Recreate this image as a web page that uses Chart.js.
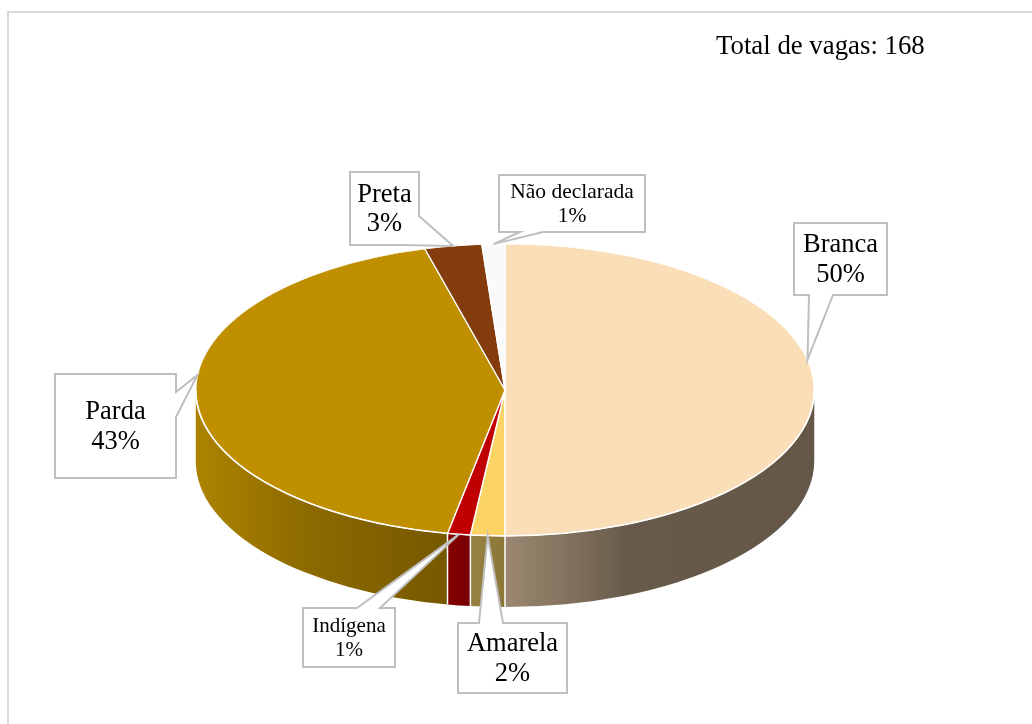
<!DOCTYPE html>
<html>
<head>
<meta charset="utf-8">
<script src="https://cdn.jsdelivr.net/npm/chart.js@4.4.1/dist/chart.umd.min.js"></script>
<style>
  html, body { margin: 0; padding: 0; background: #fff; }
  #wrap { position: relative; width: 1032px; height: 724px; }
</style>
</head>
<body>
<div id="wrap"><canvas id="chart" width="1032" height="724"></canvas></div>
<script>
// data, clockwise from 12 o'clock
const categories = ["Branca", "Amarela", "Indígena", "Parda", "Preta", "Não declarada"]
const vagas = [84, 3, 2, 72, 5, 2]
const totalText = "Total de vagas: "

// styles
const topColors = ["#fadeb8", "#fcd466", "#c00000", "#bf8f00", "#843c0c", "#fafafa"]
const sideColors = [
  [["#9c8872", 0], ["#85745f", 0.18], ["#675a4a", 0.4], ["#645748", 1]],
  [["#978243", 0], ["#8b7739", 1]],
  [["#850000", 0], ["#760000", 1]],
  [["#ad8300", 0], ["#8c6a00", 0.45], ["#765800", 1]],
  [["#5c2a08", 0], ["#5c2a08", 1]],
  [["#d0d0d0", 0], ["#d0d0d0", 1]]
]

// layout of the squashed pie and the callout boxes
const PIE = { cy: 390, ry: 146, depth: 71 }
const FONT = '"Liberation Serif", "Times New Roman", serif'
const callouts = [
  { box: [794, 223, 887, 295], base: [[809, 295], [833, 295]], size: 26.5, nudge: -12 },
  { box: [458, 623, 567, 693], base: [[479, 623], [503, 623]], size: 26.5, nudge: 0 },
  { box: [303, 608, 395, 667], base: [[357, 608], [380, 608]], size: 21, nudge: 0 },
  { box: [55, 374, 176, 478], base: [[176, 392], [176, 417]], size: 26.5, nudge: 8 },
  { box: [350, 172, 419, 245], base: [[419, 216], [403, 245]], size: 26.5, nudge: 0 },
  { box: [499, 175, 645, 232], base: [[520, 232], [543, 232]], size: 21.5, nudge: 0 }
]

const total = vagas.reduce((a, b) => a + b, 0)

// side wall + vertical squash of the pie top
const pie3d = {
  id: "pie3d",
  beforeDatasetsDraw(chart) {
    const ctx = chart.ctx
    const arcs = chart.getDatasetMeta(0).data
    const cx = arcs[0].x, rx = arcs[0].outerRadius
    const cy = PIE.cy, ry = PIE.ry, d = PIE.depth

    arcs.forEach((arc, i) => {
      const s = Math.max(arc.startAngle, 0)
      const e = Math.min(arc.endAngle, Math.PI)
      if (e <= s) return
      const xl = cx + rx * Math.cos(e), xr = cx + rx * Math.cos(s)
      const g = ctx.createLinearGradient(xl, 0, xr, 0)
      sideColors[i].forEach(([c, t]) => g.addColorStop(t, c))
      ctx.beginPath()
      ctx.ellipse(cx, cy, rx, ry, 0, s, e)
      ctx.ellipse(cx, cy + d, rx, ry, 0, e, s, true)
      ctx.closePath()
      ctx.fillStyle = g
      ctx.fill()
    })

    // white seams on the wall
    ctx.strokeStyle = "#ffffff"
    ctx.lineWidth = 1.5
    arcs.forEach(arc => {
      const a = arc.endAngle
      if (a > 0 && a < Math.PI) {
        const x = cx + rx * Math.cos(a), y = cy + ry * Math.sin(a)
        ctx.beginPath()
        ctx.moveTo(x, y)
        ctx.lineTo(x, y + d)
        ctx.stroke()
      }
    })

    ctx.save()
    ctx.translate(0, cy)
    ctx.scale(1, ry / rx)
    ctx.translate(0, -arcs[0].y)
  },
  afterDatasetsDraw(chart) {
    const ctx = chart.ctx
    ctx.restore()
    const arcs = chart.getDatasetMeta(0).data
    ctx.strokeStyle = "#ffffff"
    ctx.lineWidth = 1.5
    ctx.beginPath()
    ctx.ellipse(arcs[0].x, PIE.cy, arcs[0].outerRadius, PIE.ry, 0, 0, Math.PI)
    ctx.stroke()
  }
}

function calloutPath(ctx, box, base, tip) {
  const [x1, y1, x2, y2] = box
  const W = x2 - x1, H = y2 - y1
  const par = ([x, y]) => {
    if (y === y1) return x - x1
    if (x === x2) return W + (y - y1)
    if (y === y2) return W + H + (x2 - x)
    return 2 * W + H + (y2 - y)
  }
  const corners = [[x1, y1, 0], [x2, y1, W], [x2, y2, W + H], [x1, y2, 2 * W + H]]
  let [p, q] = base
  if (par(p) > par(q)) [p, q] = [q, p]
  const tp = par(p), tq = par(q)
  ctx.beginPath()
  ctx.moveTo(p[0], p[1])
  ctx.lineTo(tip[0], tip[1])
  ctx.lineTo(q[0], q[1])
  corners.filter(c => c[2] > tq).forEach(c => ctx.lineTo(c[0], c[1]))
  corners.filter(c => c[2] < tp).forEach(c => ctx.lineTo(c[0], c[1]))
  ctx.closePath()
}

const labelsPlugin = {
  id: "calloutLabels",
  afterDraw(chart) {
    const ctx = chart.ctx
    const arcs = chart.getDatasetMeta(0).data
    const cx = arcs[0].x, rx = arcs[0].outerRadius

    // frame
    ctx.fillStyle = "#d9d9d9"
    ctx.fillRect(7, 11, 2, 720)
    ctx.fillRect(7, 11, 1030, 2)

    ctx.fillStyle = "#000"
    ctx.font = "26.8px " + FONT
    ctx.textAlign = "left"
    ctx.textBaseline = "alphabetic"
    ctx.fillText(totalText + total, 716, 54)

    arcs.forEach((arc, i) => {
      const c = callouts[i]
      const mid = (arc.startAngle + arc.endAngle) / 2 + c.nudge * Math.PI / 180
      const tip = [cx + rx * Math.cos(mid), PIE.cy + PIE.ry * Math.sin(mid)]
      calloutPath(ctx, c.box, c.base, tip)
      ctx.fillStyle = "#ffffff"
      ctx.fill()
      ctx.strokeStyle = "#bfbfbf"
      ctx.lineWidth = 2
      ctx.lineJoin = "miter"
      ctx.stroke()

      const [x1, y1, x2, y2] = c.box
      const pct = Math.round(vagas[i] / total * 100) + "%"
      const gap = c.size * 1.12
      const my = (y1 + y2) / 2 + 1
      ctx.fillStyle = "#000"
      ctx.font = c.size + "px " + FONT
      ctx.textAlign = "center"
      ctx.textBaseline = "middle"
      ctx.fillText(categories[i], (x1 + x2) / 2, my - gap / 2)
      ctx.fillText(pct, (x1 + x2) / 2, my + gap / 2)
    })
  }
}

new Chart(document.getElementById("chart"), {
  type: "pie",
  data: {
    labels: categories,
    datasets: [{
      data: vagas,
      backgroundColor: topColors,
      borderColor: "#ffffff",
      borderWidth: 1.5,
      clip: false
    }]
  },
  options: {
    responsive: false,
    animation: false,
    events: [],
    layout: { padding: { left: 195, right: 217, top: 52, bottom: 52 } },
    plugins: {
      legend: { display: false },
      tooltip: { enabled: false }
    }
  },
  plugins: [pie3d, labelsPlugin]
})
</script>
</body>
</html>
